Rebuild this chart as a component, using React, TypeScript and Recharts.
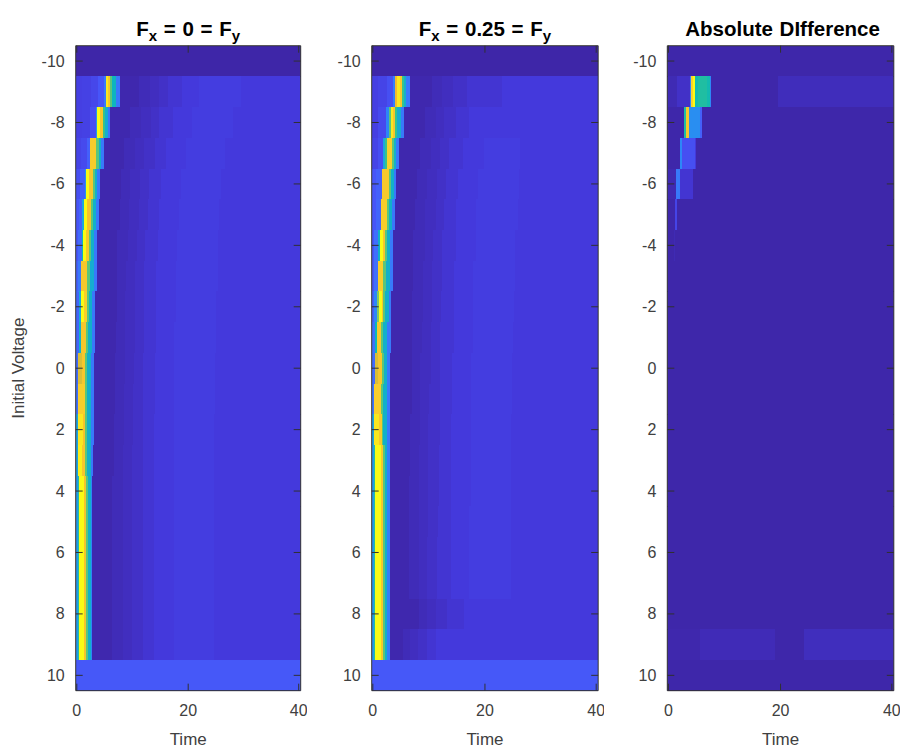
import { Bar, BarChart, Cell, XAxis, YAxis } from "recharts";

const voltages = [-10, -9, -8, -7, -6, -5, -4, -3, -2, -1, 0, 1, 2, 3, 4, 5, 6, 7, 8, 9, 10];
const timeTicks = [0, 20, 40];
const timeStart = -0.2;
const timeEnd = 40.2;

const edgeRowValue = { top: 0.0, bottom: 0.105 };

// after the spike every row climbs through the same levels, only the step times move
const tailLevels = [0.006, 0.015, 0.022, 0.03, 0.04, 0.05, 0.058, 0.05];

// rows -9 .. 9
const settledEdges = [0.2, 0.4, 1.3, 1.6, 2.0, 2.5, 2.8];
const settledLevels = [0.25, 0.45, 1.0, 0.84, 0.55, 0.35, 0.2];

const fx0SpikeEdges = [
  [1.0, 2.6, 3.8, 4.8, 5.2, 5.6, 6.0, 6.4, 7.0, 7.8],
  [1.0, 2.4, 3.4, 3.7, 4.2, 4.7, 5.1, 5.6, 6.0],
  [0.8, 1.8, 2.4, 3.5, 3.9, 4.4, 4.9],
  [0.6, 1.4, 1.7, 2.1, 2.9, 3.3, 3.7, 4.15],
  [0.4, 1.0, 1.3, 1.8, 2.6, 2.95, 3.45, 4.0],
  [0.2, 0.9, 1.2, 1.7, 2.1, 2.5, 3.0, 3.6],
  [0.2, 0.8, 1.3, 1.9, 2.3, 3.0, 3.6],
  [0.4, 0.8, 1.3, 1.8, 2.15, 2.8, 3.35],
  [0.4, 0.8, 1.6, 2.0, 2.7, 3.3],
  [0.3, 0.9, 1.5, 1.9, 2.6, 3.1],
  [0.2, 1.4, 1.8, 2.55, 3.0],
  [0.2, 1.1, 1.5, 1.8, 2.5, 3.0],
  [0.2, 1.0, 1.4, 1.8, 2.5, 2.9],
  settledEdges,
  settledEdges,
  settledEdges,
  settledEdges,
  settledEdges,
  settledEdges,
];
const fx0SpikeLevels = [
  [0.06, 0.065, 0.075, 0.1, 0.17, 0.95, 0.85, 0.55, 0.38, 0.17],
  [0.06, 0.065, 0.09, 0.25, 1.0, 0.85, 0.5, 0.33, 0.16],
  [0.07, 0.08, 0.12, 0.87, 0.55, 0.35, 0.17],
  [0.09, 0.12, 0.25, 1.0, 0.85, 0.55, 0.35, 0.17],
  [0.1, 0.13, 0.3, 1.0, 0.84, 0.55, 0.35, 0.17],
  [0.1, 0.14, 0.4, 1.0, 0.85, 0.55, 0.35, 0.17],
  [0.12, 0.17, 0.85, 0.85, 0.55, 0.33, 0.17],
  [0.13, 0.3, 1.0, 0.88, 0.55, 0.35, 0.17],
  [0.13, 0.35, 0.85, 0.55, 0.35, 0.17],
  [0.14, 0.75, 0.85, 0.55, 0.35, 0.17],
  [0.15, 0.88, 0.55, 0.35, 0.17],
  [0.28, 0.95, 0.84, 0.55, 0.35, 0.17],
  [0.28, 0.97, 0.85, 0.55, 0.35, 0.17],
  settledLevels,
  settledLevels,
  settledLevels,
  settledLevels,
  settledLevels,
  settledLevels,
];
const fx0TailEdges = [
  [11.1, 13.1, 14.8, 16.4, 18.8, 21.9, 29.5],
  [9.6, 11.6, 13.3, 14.8, 17.2, 20.7, 28.0],
  [8.4, 10.4, 12.0, 14.0, 16.0, 19.6, 26.6],
  [8.0, 9.6, 11.4, 13.0, 15.2, 18.7, 25.9],
  [7.7, 9.3, 11.1, 12.8, 14.8, 18.4, 25.6],
  [7.2, 9.2, 10.8, 12.3, 14.5, 18.0, 25.4],
  [7.2, 8.9, 10.4, 12.0, 14.3, 17.9, 25.3],
  [7.2, 8.7, 10.4, 12.0, 14.2, 17.9, 25.0],
  [7.1, 8.7, 10.4, 12.0, 14.2, 17.5, 25.0],
  [6.9, 8.7, 10.2, 11.9, 14.0, 17.5, 24.8],
  [6.9, 8.4, 10.1, 11.9, 14.0, 17.5, 24.8],
  [6.7, 8.4, 10.1, 11.9, 13.9, 17.5, 24.7],
  [6.6, 8.3, 9.9, 11.9, 13.9, 17.5, 24.7],
  [6.4, 8.3, 9.9, 11.9, 13.9, 17.5, 24.7],
  [6.4, 8.3, 9.9, 11.9, 13.9, 17.5, 24.7],
  [6.4, 8.3, 9.9, 11.9, 13.9, 17.5, 24.7],
  [6.4, 8.3, 9.9, 11.9, 13.9, 17.5, 24.7],
  [6.4, 8.3, 9.9, 11.9, 13.9, 17.5, 24.7],
  [6.4, 8.3, 9.9, 11.9, 13.9, 17.5, 24.7],
];

const lateEdges = [0.2, 0.4, 1.4, 1.8, 2.1, 2.6, 3.0];
const lateLevels = [0.25, 0.45, 1.0, 0.86, 0.55, 0.35, 0.18];

const fx25SpikeEdges = [
  [1.0, 2.6, 3.6, 4.0, 4.4, 4.8, 5.2, 5.6, 6.0, 6.6],
  [1.0, 2.4, 2.9, 3.2, 3.6, 4.0, 4.4, 5.0, 5.6],
  [1.0, 1.9, 2.2, 2.5, 3.4, 3.75, 4.2, 4.7],
  [0.6, 1.6, 2.9, 3.3, 3.8, 4.1],
  [0.6, 1.45, 2.5, 2.85, 3.4, 3.9],
  [0.2, 0.9, 1.2, 1.8, 2.2, 2.5, 3.1, 3.6],
  [0.2, 0.9, 1.9, 2.3, 3.0, 3.6],
  [0.2, 0.7, 1.1, 1.6, 1.9, 2.2, 2.8, 3.3],
  [0.3, 0.7, 1.5, 1.9, 2.6, 3.2],
  [0.3, 0.9, 1.6, 1.95, 2.5, 3.0],
  [0.2, 1.4, 1.8, 2.5, 3.0],
  [0.2, 1.1, 1.55, 1.9, 2.5, 3.0],
  lateEdges,
  lateEdges,
  lateEdges,
  lateEdges,
  lateEdges,
  lateEdges,
  lateEdges,
];
const fx25SpikeLevels = [
  [0.06, 0.07, 0.09, 0.18, 0.8, 0.95, 0.85, 0.5, 0.35, 0.17],
  [0.06, 0.08, 0.2, 0.55, 0.95, 0.85, 0.5, 0.33, 0.17],
  [0.07, 0.09, 0.3, 0.5, 0.88, 0.55, 0.35, 0.17],
  [0.1, 0.12, 0.86, 0.55, 0.35, 0.17],
  [0.1, 0.13, 0.87, 0.55, 0.35, 0.17],
  [0.1, 0.15, 0.35, 1.0, 0.85, 0.55, 0.35, 0.17],
  [0.1, 0.15, 0.88, 0.55, 0.35, 0.17],
  [0.12, 0.2, 0.6, 1.0, 0.85, 0.55, 0.35, 0.17],
  [0.15, 0.4, 0.86, 0.55, 0.35, 0.17],
  [0.14, 0.75, 0.85, 0.55, 0.35, 0.17],
  [0.16, 0.88, 0.55, 0.35, 0.17],
  [0.28, 0.95, 0.86, 0.55, 0.35, 0.17],
  lateLevels,
  lateLevels,
  lateLevels,
  lateLevels,
  lateLevels,
  lateLevels,
  lateLevels,
];
const fx25TailEdges = [
  [10.5, 12.4, 14.3, 16.8, 23.0, 23.0, 23.0],
  [9.3, 11.2, 12.7, 14.8, 17.2, 17.2, 17.2],
  [8.4, 10.3, 11.9, 13.6, 16.0, 19.9, 26.3],
  [7.9, 9.6, 11.5, 13.1, 15.2, 18.7, 26.0],
  [7.5, 9.3, 11.2, 12.7, 14.8, 18.4, 25.9],
  [7.2, 9.3, 10.8, 12.4, 14.8, 18.4, 25.4],
  [7.2, 9.0, 10.5, 12.3, 14.5, 17.9, 25.3],
  [7.0, 9.0, 10.5, 12.1, 14.5, 17.9, 25.1],
  [7.0, 8.7, 10.3, 11.9, 14.5, 17.8, 25.0],
  [6.9, 8.5, 10.3, 11.9, 14.1, 17.5, 24.8],
  [6.9, 8.5, 10.0, 11.9, 14.1, 17.5, 24.8],
  [6.7, 8.4, 9.9, 11.9, 13.9, 17.5, 24.7],
  [6.6, 8.2, 9.9, 11.8, 13.9, 17.5, 24.7],
  [6.4, 8.2, 9.9, 11.8, 13.9, 17.5, 24.7],
  [6.4, 8.2, 9.9, 11.7, 13.9, 17.2, 24.7],
  [6.4, 8.2, 9.7, 11.5, 13.9, 17.1, 24.7],
  [6.4, 8.2, 9.7, 11.5, 13.9, 17.1, 24.7],
  [8.2, 9.6, 11.2, 13.3, 16.3, 16.3, 16.3],
  [5.3, 6.6, 8.1, 9.6, 11.2, 13.5, 13.5],
];

// difference panel, rows -10 .. 10, most of them flat
const diffEdges = [
  [40.2],
  [0.0, 1.6, 3.8, 4.0, 4.4, 4.8, 5.2, 6.8, 7.4, 7.6, 19.5, 40.2],
  [2.8, 3.2, 3.6, 5.6, 6.0, 40.2],
  [2.0, 2.4, 4.8, 5.0, 40.2],
  [1.4, 2.0, 4.4, 40.2],
  [1.2, 1.6, 40.2],
  [1.0, 1.2, 40.2],
  [40.2], [40.2], [40.2], [40.2], [40.2], [40.2], [40.2], [40.2], [40.2], [40.2], [40.2], [40.2],
  [0.0, 5.6, 19.0, 24.2, 40.2],
  [40.2],
];
const diffLevels = [
  [0.002],
  [0.002, 0.012, 0.03, 0.2, 0.9, 1.0, 0.42, 0.45, 0.42, 0.2, 0.002, 0.018],
  [0.002, 0.45, 0.85, 0.22, 0.12, 0.002],
  [0.002, 0.2, 0.09, 0.05, 0.002],
  [0.01, 0.17, 0.04, 0.002],
  [0.002, 0.07, 0.002],
  [0.002, 0.012, 0.002],
  [0.002], [0.002], [0.002], [0.002], [0.002], [0.002], [0.002], [0.002], [0.002], [0.002], [0.002], [0.002],
  [0.002, 0.005, 0.014, 0.002, 0.02],
  [0.002],
];

const parulaStops = [
  [0, 0x3e, 0x26, 0xa8],
  [0.05, 0x44, 0x39, 0xdc],
  [0.1, 0x47, 0x55, 0xf8],
  [0.15, 0x3f, 0x70, 0xfc],
  [0.2, 0x2d, 0x87, 0xf7],
  [0.3, 0x1a, 0xa8, 0xda],
  [0.4, 0x0a, 0xb8, 0xb8],
  [0.5, 0x36, 0xc3, 0x8c],
  [0.6, 0x7f, 0xc8, 0x66],
  [0.7, 0xc2, 0xc1, 0x3e],
  [0.8, 0xf2, 0xba, 0x2e],
  [0.9, 0xf9, 0xd3, 0x2a],
  [1, 0xf9, 0xfb, 0x15],
];

const parula = (level: number) => {
  let i = 0;
  while (i < parulaStops.length - 2 && level > parulaStops[i + 1][0]) i++;
  const a = parulaStops[i];
  const b = parulaStops[i + 1];
  const k = (level - a[0]) / (b[0] - a[0]);
  const mix = (c: number) => Math.round(a[c] + (b[c] - a[c]) * k);
  return `rgb(${mix(1)},${mix(2)},${mix(3)})`;
};

type Row = { voltage: number; base: number; fills: string[]; [key: string]: any };

const toRow = (voltage: number, edges: number[], levels: number[]): Row => {
  const row: Row = { voltage, base: timeStart, fills: levels.map(parula) };
  edges.forEach((edge, i) => {
    row[`s${i}`] = edge - (i === 0 ? timeStart : edges[i - 1]);
  });
  return row;
};

const heatRows = (spikeEdges: number[][], spikeLevels: number[][], tailEdges: number[][]) =>
  voltages.map((voltage, i) => {
    if (i === 0) return toRow(voltage, [timeEnd], [edgeRowValue.top]);
    if (i === voltages.length - 1) return toRow(voltage, [timeEnd], [edgeRowValue.bottom]);
    const edges = [...spikeEdges[i - 1], ...tailEdges[i - 1], timeEnd];
    return toRow(voltage, edges, [...spikeLevels[i - 1], ...tailLevels]);
  });

const fx0Rows = heatRows(fx0SpikeEdges, fx0SpikeLevels, fx0TailEdges);
const fx25Rows = heatRows(fx25SpikeEdges, fx25SpikeLevels, fx25TailEdges);
const diffRows = voltages.map((voltage, i) => toRow(voltage, diffEdges[i], diffLevels[i]));

const textColor = "#404040";
const tickFont = { fontFamily: "Liberation Sans", fontSize: 16, fill: textColor };
const labelStyle = { fontFamily: "Liberation Sans", fontSize: 17, fill: textColor };
const lineStyle = { stroke: "#303030", strokeWidth: 1 };
const yWidth = 60;
const tickLength = 7;

// inward tick marks with the label placed on its own
const bottomTick = ({ x, y, payload }: any) => (
  <g>
    <line x1={x} x2={x} y1={y} y2={y - tickLength} {...lineStyle} />
    <text x={x} y={y + 25} textAnchor="middle" {...tickFont}>
      {payload.value}
    </text>
  </g>
);
const topTick = ({ x, y }: any) => <line x1={x} x2={x} y1={y} y2={y + tickLength} {...lineStyle} />;
const leftTick = ({ x, y, payload }: any) => (
  <g>
    <line x1={x} x2={x + tickLength} y1={y} y2={y} {...lineStyle} />
    <text x={x - 11} y={y + 5.5} textAnchor="end" {...tickFont}>
      {payload.value}
    </text>
  </g>
);
const rightTick = ({ x, y }: any) => <line x1={x} x2={x - tickLength} y1={y} y2={y} {...lineStyle} />;

// axes go in a second chart on top so the marks sit over the bars
// top and right need a size of 1, an axis of size 0 is not drawn at all
const axes = (visible: boolean, yLabel?: string) => {
  const shared = { tickLine: false, tickSize: 0, tickMargin: 0, axisLine: visible ? lineStyle : false };
  return [
    <XAxis
      key="bottom"
      type="number"
      domain={[timeStart, timeEnd]}
      ticks={timeTicks}
      allowDataOverflow
      height={50}
      tick={visible ? bottomTick : false}
      label={visible ? { value: "Time", position: "insideBottom", offset: -4, style: labelStyle } : undefined}
      {...shared}
    />,
    <XAxis
      key="top"
      xAxisId="top"
      type="number"
      orientation="top"
      domain={[timeStart, timeEnd]}
      ticks={timeTicks}
      allowDataOverflow
      height={1}
      tick={visible ? topTick : false}
      {...shared}
    />,
    <YAxis
      key="left"
      type="category"
      dataKey="voltage"
      width={yWidth}
      interval={1}
      tick={visible ? leftTick : false}
      label={
        visible && yLabel
          ? { value: yLabel, angle: -90, position: "insideLeft", offset: 0, dx: 2, style: { ...labelStyle, textAnchor: "middle" } }
          : undefined
      }
      {...shared}
    />,
    <YAxis
      key="right"
      yAxisId="right"
      type="category"
      dataKey="voltage"
      orientation="right"
      width={1}
      interval={1}
      tick={visible ? rightTick : false}
      {...shared}
    />,
  ];
};

type PanelProps = {
  rows: Row[];
  left: number;
  plotLeft: number;
  plotWidth: number;
  yLabel?: string;
};

const Panel = ({ rows, left, plotLeft, plotWidth, yLabel }: PanelProps) => {
  const segmentCount = Math.max(...rows.map((r) => r.fills.length));
  const chartProps = {
    width: plotLeft - left + plotWidth + 6,
    height: 749,
    data: rows,
    layout: "vertical" as const,
    barCategoryGap: 0,
    margin: { top: 44.7, bottom: 8.3, left: plotLeft - left - yWidth, right: 5 },
  };
  return (
    <>
      <div style={{ position: "absolute", left, top: 0 }}>
        <BarChart {...chartProps}>
          <Bar dataKey="base" stackId="heat" fill="none" isAnimationActive={false} />
          {Array.from({ length: segmentCount }, (_, i) => (
            <Bar key={i} dataKey={`s${i}`} stackId="heat" isAnimationActive={false}>
              {rows.map((row) => (
                <Cell key={row.voltage} fill={row.fills[i] ?? "none"} shapeRendering="crispEdges" />
              ))}
            </Bar>
          ))}
          {axes(false)}
        </BarChart>
      </div>
      <div style={{ position: "absolute", left, top: 0, zIndex: 2 }}>
        <BarChart {...chartProps}>{axes(true, yLabel)}</BarChart>
      </div>
    </>
  );
};

const titleStyle = {
  position: "absolute" as const,
  top: 18,
  textAlign: "center" as const,
  fontFamily: "Liberation Sans",
  fontWeight: 700,
  fontSize: 20.5,
  lineHeight: "22px",
  color: "#000000",
  whiteSpace: "nowrap" as const,
  wordSpacing: 1,
  zIndex: 3,
};
const subStyle = { fontSize: 15, lineHeight: 0, verticalAlign: -5 };

const App = () => (
  <div style={{ position: "absolute", left: 0, top: 0, width: 901, height: 749, background: "#ffffff" }}>
    <Panel rows={fx0Rows} left={0} plotLeft={75.7} plotWidth={225} yLabel="Initial Voltage" />
    <Panel rows={fx25Rows} left={310} plotLeft={371.7} plotWidth={226.5} />
    <Panel rows={diffRows} left={606} plotLeft={667.3} plotWidth={226.5} />
    <div style={{ ...titleStyle, left: 75.7, width: 225 }}>
      F<sub style={subStyle}>x</sub> = 0 = F<sub style={subStyle}>y</sub>
    </div>
    <div style={{ ...titleStyle, left: 371.7, width: 226.5 }}>
      F<sub style={subStyle}>x</sub> = 0.25 = F<sub style={subStyle}>y</sub>
    </div>
    <div style={{ ...titleStyle, left: 669.3, width: 226.5 }}>Absolute DIfference</div>
  </div>
);

export default App;
